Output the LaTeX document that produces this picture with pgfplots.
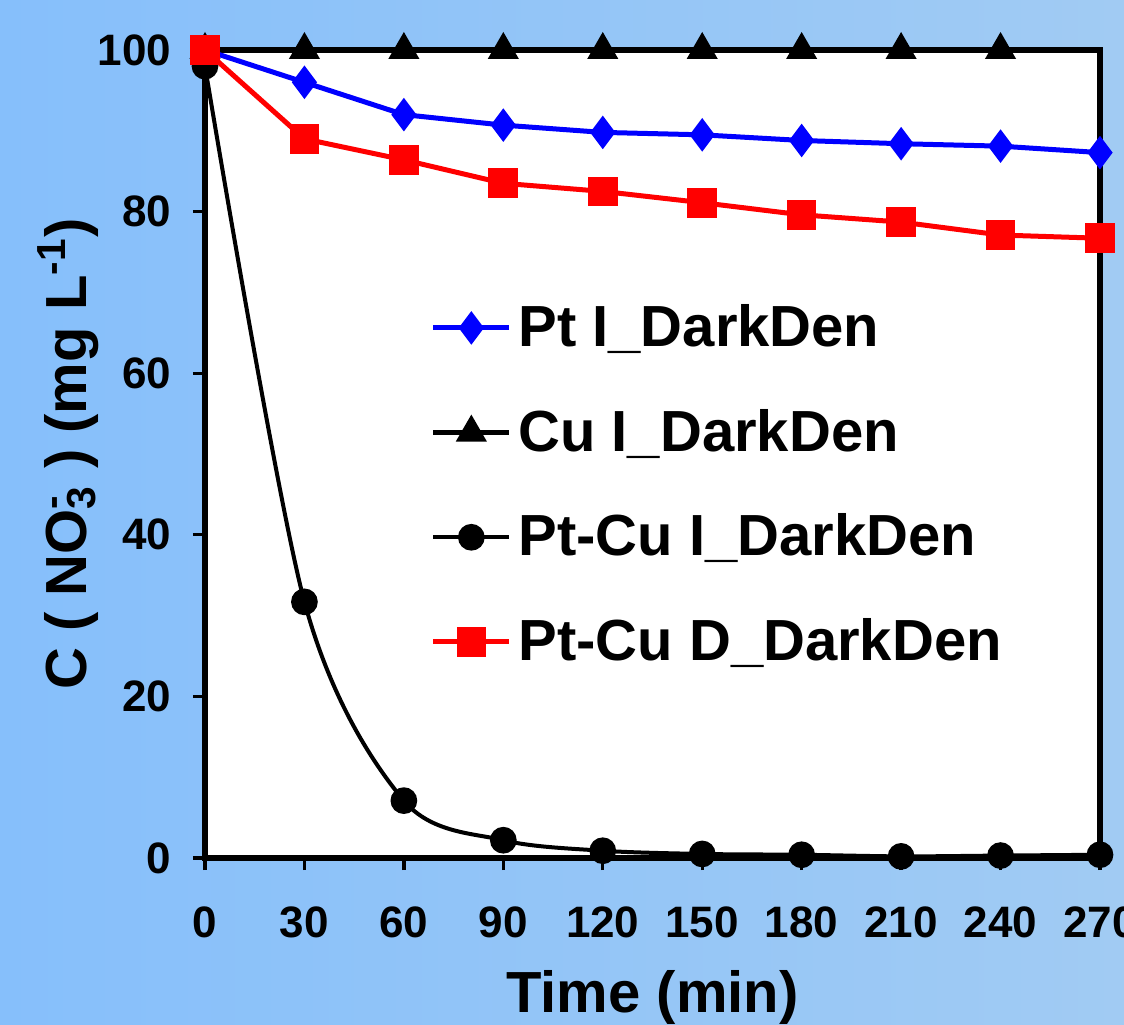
\documentclass[border=0pt]{standalone}
\usepackage{pgfplots}
\pgfplotsset{compat=1.18}
\usepackage{fontspec}
\setmainfont{Liberation Sans}
\definecolor{bgL}{RGB}{134,191,251}
\definecolor{bgR}{RGB}{161,203,243}
\definecolor{ptblue}{RGB}{0,0,255}
\definecolor{ptred}{RGB}{255,0,0}
\begin{document}
\begin{tikzpicture}
\path[use as bounding box] (-61.5pt,-50.1pt) rectangle (275.7pt,257.4pt);
\clip (-61.5pt,-50.1pt) rectangle (275.7pt,257.4pt);
\shade[left color=bgL, right color=bgR] (-61.5pt,-50.1pt) rectangle (275.7pt,257.4pt);
\begin{axis}[
  at={(0pt,0pt)}, anchor=south west,
  scale only axis, width=268.5pt, height=242.4pt,
  xmin=0, xmax=270, ymin=0, ymax=100,
  xtick={0,30,...,270}, ytick={0,20,...,100},
  axis background/.style={fill=white},
  axis line style={line width=2pt, black},
  tick style={line width=1pt, black},
  tick align=outside, xtick pos=bottom, ytick pos=left,
  major tick length=3.6pt,
  /pgf/number format/assume math mode=true,
  tick label style={font=\fontsize{13.2}{15}\selectfont\bfseries},
  xticklabel style={yshift=-7.5pt},
  yticklabel style={xshift=-3pt},
  xlabel={Time (min)},
  ylabel={C ( NO\rlap{\textsuperscript{-}}\textsubscript{3} ) (mg L\textsuperscript{-1})},
  label style={font=\fontsize{17.4}{20}\selectfont\bfseries},
  xlabel style={at={(axis description cs:0.5,0)}, anchor=base, yshift=-46.2pt},
  ylabel style={at={(axis description cs:0,0.5)}, anchor=center, yshift=41pt},
  clip=false,
  legend style={at={(0.2405,0.7025)}, anchor=north west, draw=none, fill=none,
    font=\fontsize{17.4}{20}\selectfont\bfseries, row sep=13.3pt,
    nodes={inner sep=2pt}},
  legend cell align=left,
  legend image code/.code={\draw[mark repeat=2,mark phase=2] plot coordinates {(0cm,0cm) (0.4cm,0cm) (0.8cm,0cm)};},
]
\addplot[ptblue, line width=1.5pt, mark=diamond*, mark size=3.8pt, mark options={solid, fill=ptblue, draw=ptblue}]
coordinates {(0,100) (30,96.0) (60,92.0) (90,90.7) (120,89.8) (150,89.5) (180,88.8) (210,88.4) (240,88.1) (270,87.3)};
\addlegendentry{Pt I\_DarkDen}
\addplot[black, line width=1.4pt, mark=triangle*, mark size=4pt, mark options={solid, fill=black}]
coordinates {(0,100) (30,100) (60,100) (90,100) (120,100) (150,100) (180,100) (210,100) (240,100)};
\addlegendentry{Cu I\_DarkDen}
\addplot[black, line width=1.2pt, smooth, tension=0.5, mark=*, mark size=3.4pt, mark options={solid, fill=black}]
coordinates {(0,98) (30,31.7) (60,7.1) (90,2.2) (120,0.9) (150,0.5) (180,0.4) (210,0.2) (240,0.3) (270,0.4)};
\addlegendentry{Pt-Cu I\_DarkDen}
\addplot[ptred, line width=1.5pt, mark=square*, mark size=3.7pt, mark options={solid, fill=ptred, draw=ptred}]
coordinates {(0,100) (30,89.0) (60,86.4) (90,83.5) (120,82.5) (150,81.1) (180,79.6) (210,78.7) (240,77.1) (270,76.7)};
\addlegendentry{Pt-Cu D\_DarkDen}
\end{axis}
\end{tikzpicture}
\end{document}
